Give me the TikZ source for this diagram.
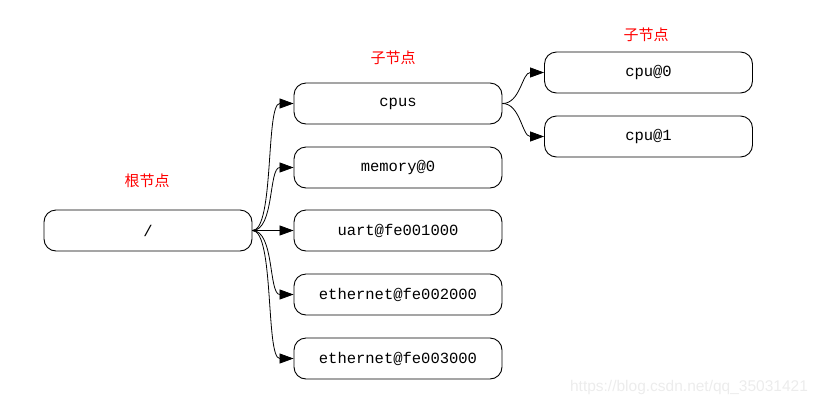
\documentclass[tikz,border=0pt]{standalone}
\usepackage{fontspec}
\setmonofont{Liberation Mono}
\setsansfont{Liberation Sans}
\newfontfamily\cjk{Noto Sans CJK SC}
\usetikzlibrary{arrows.meta}
\begin{document}
\begin{tikzpicture}[x=1pt,y=-1pt,
  box/.style={draw,line width=0.9pt,rounded corners=12pt,minimum width=208pt,minimum height=41pt,inner sep=0pt,
    font=\ttfamily\fontsize{15.5}{16}\selectfont},
  tag/.style={text=red,font=\cjk\fontsize{15}{17}\selectfont},
  edge/.style={line width=0.8pt,-{Triangle[length=14pt,width=10pt]}}]
\useasboundingbox (0,0) rectangle (819,405);
\node[box] (root) at (148,230.5) {/};
\node[box] (cpus) at (398,103.5) {cpus};
\node[box] (mem) at (398,167.5) {memory@0};
\node[box] (uart) at (398,230.5) {uart@fe001000};
\node[box] (eth2) at (398,294.5) {ethernet@fe002000};
\node[box] (eth3) at (398,358.5) {ethernet@fe003000};
\node[box] (cpu0) at (648.5,72.5) {cpu@0};
\node[box] (cpu1) at (648.5,136.5) {cpu@1};
\node[tag] (l1) at (147,181) {根节点};
\node[tag] (l2) at (393,58) {子节点};
\node[tag] (l3) at (646,35) {子节点};
\node[font=\sffamily\fontsize{15.5}{17}\selectfont,text=gray!15] (wm) at (689,387) {https://blog.csdn.net/qq\_35031421};
\draw[edge] (root.east) .. controls +(22,0) and +(-28,0) .. (cpus.west);
\draw[edge] (root.east) .. controls +(22,0) and +(-25,0) .. (mem.west);
\draw[edge] (root.east) -- (uart.west);
\draw[edge] (root.east) .. controls +(22,0) and +(-25,0) .. (eth2.west);
\draw[edge] (root.east) .. controls +(22,0) and +(-28,0) .. (eth3.west);
\draw[edge] (cpus.east) .. controls +(18,0) and +(-22,0) .. (cpu0.west);
\draw[edge] (cpus.east) .. controls +(18,0) and +(-22,0) .. (cpu1.west);
\end{tikzpicture}
\end{document}
